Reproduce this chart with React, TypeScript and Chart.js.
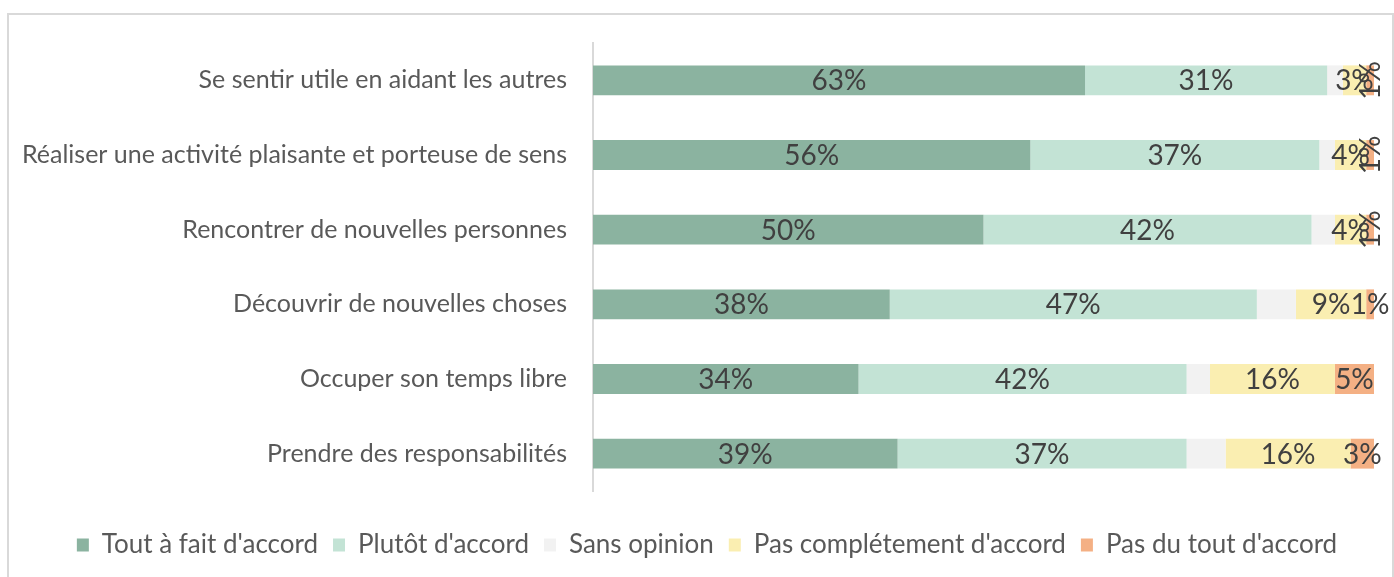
import React, { useEffect, useRef } from "react";
import { Chart, registerables } from "chart.js";

Chart.register(...registerables);

const categories = [
  "Se sentir utile en aidant les autres",
  "Réaliser une activité plaisante et porteuse de sens",
  "Rencontrer de nouvelles personnes",
  "Découvrir de nouvelles choses",
  "Occuper son temps libre",
  "Prendre des responsabilités",
];
const seriesNames = [
  "Tout à fait d'accord",
  "Plutôt d'accord",
  "Sans opinion",
  "Pas complétement d'accord",
  "Pas du tout d'accord",
];
const toutAFait = [63, 56, 50, 38, 34, 39];
const plutot = [31, 37, 42, 47, 42, 37];
const sansOpinion = [2, 2, 3, 5, 3, 5];
const pasCompletement = [3, 4, 4, 9, 16, 16];
const pasDuTout = [1, 1, 1, 1, 5, 3];

const seriesValues = [toutAFait, plutot, sansOpinion, pasCompletement, pasDuTout];
const colors = ["#8BB3A0", "#C3E3D5", "#F2F2F2", "#FAEEB1", "#F4B084"];
const showLabels = [true, true, false, true, true];
const verticalLabelRows = [0, 1, 2]; // last series labels drawn rotated

const FONT = "Lato, 'Open Sans', sans-serif";
// plot area extends 20px past the 100% end of the bars (as in the reference)
const X_MAX = (100 * (1394 - 593)) / (1374 - 593);

const framePlugin = {
  id: "frame",
  beforeDraw(chart: any) {
    const ctx = chart.ctx;
    ctx.save();
    ctx.fillStyle = "#ffffff";
    ctx.fillRect(0, 0, chart.width, chart.height);
    ctx.strokeStyle = "#D9D9D9";
    ctx.lineWidth = 2;
    ctx.strokeRect(8, 14, 1385, 620);
    ctx.restore();
  },
};

const labelPlugin = {
  id: "segLabels",
  afterDatasetsDraw(chart: any) {
    const ctx = chart.ctx;
    ctx.save();
    ctx.font = `28px ${FONT}`;
    ctx.fillStyle = "#404040";
    ctx.textAlign = "center";
    ctx.textBaseline = "middle";
    chart.data.datasets.forEach((ds: any, di: number) => {
      if (!showLabels[di]) return;
      const meta = chart.getDatasetMeta(di);
      meta.data.forEach((bar: any, i: number) => {
        const v = ds.data[i];
        const { x, base, y } = bar.getProps(["x", "base", "y"], true);
        const cx = (x + base) / 2;
        const text = `${v}%`;
        if (di === 4 && verticalLabelRows.includes(i)) {
          ctx.save();
          ctx.translate(cx, y);
          ctx.rotate(-Math.PI / 2);
          ctx.fillText(text, 0, 1);
          ctx.restore();
        } else {
          ctx.fillText(text, cx, y + 1);
        }
      });
    });
    ctx.restore();
  },
};

export default function App() {
  const ref = useRef<HTMLCanvasElement | null>(null);
  useEffect(() => {
    if (!ref.current) return;
    const chart = new Chart(ref.current, {
      type: "bar",
      data: {
        labels: categories,
        datasets: seriesNames.map((name, i) => ({
          label: name,
          data: seriesValues[i],
          backgroundColor: colors[i],
          borderWidth: 0,
          categoryPercentage: 0.8,
          barPercentage: 0.5,
        })),
      },
      options: {
        indexAxis: "y",
        responsive: false,
        animation: false,
        devicePixelRatio: 1,
        layout: { padding: { top: 43, left: 20, right: 0, bottom: 9 } },
        scales: {
          x: {
            stacked: true,
            min: 0,
            max: X_MAX,
            ticks: { display: false },
            grid: { display: false },
            border: { display: false },
            afterFit: (s: any) => {
              s.height = 26;
            },
          },
          y: {
            stacked: true,
            grid: { display: false, drawTicks: false },
            border: { display: true, color: "#D9D9D9", width: 2 },
            ticks: {
              color: "#595959",
              font: { family: FONT, size: 25 },
              padding: 26,
            },
            afterFit: (s: any) => {
              s.width = 573;
            },
          },
        },
        plugins: {
          legend: {
            position: "bottom",
            labels: {
              boxWidth: 12,
              boxHeight: 13,
              color: "#595959",
              font: { family: FONT, size: 26 },
              padding: 15,
            },
          },
          tooltip: { enabled: false },
        },
      } as any,
      plugins: [framePlugin, labelPlugin],
    });
    return () => chart.destroy();
  }, []);
  return (
    <div style={{ position: "fixed", left: 0, top: 0, width: 1394, height: 577 }}>
      <canvas ref={ref} width={1394} height={577} style={{ width: 1394, height: 577 }} />
    </div>
  );
}
